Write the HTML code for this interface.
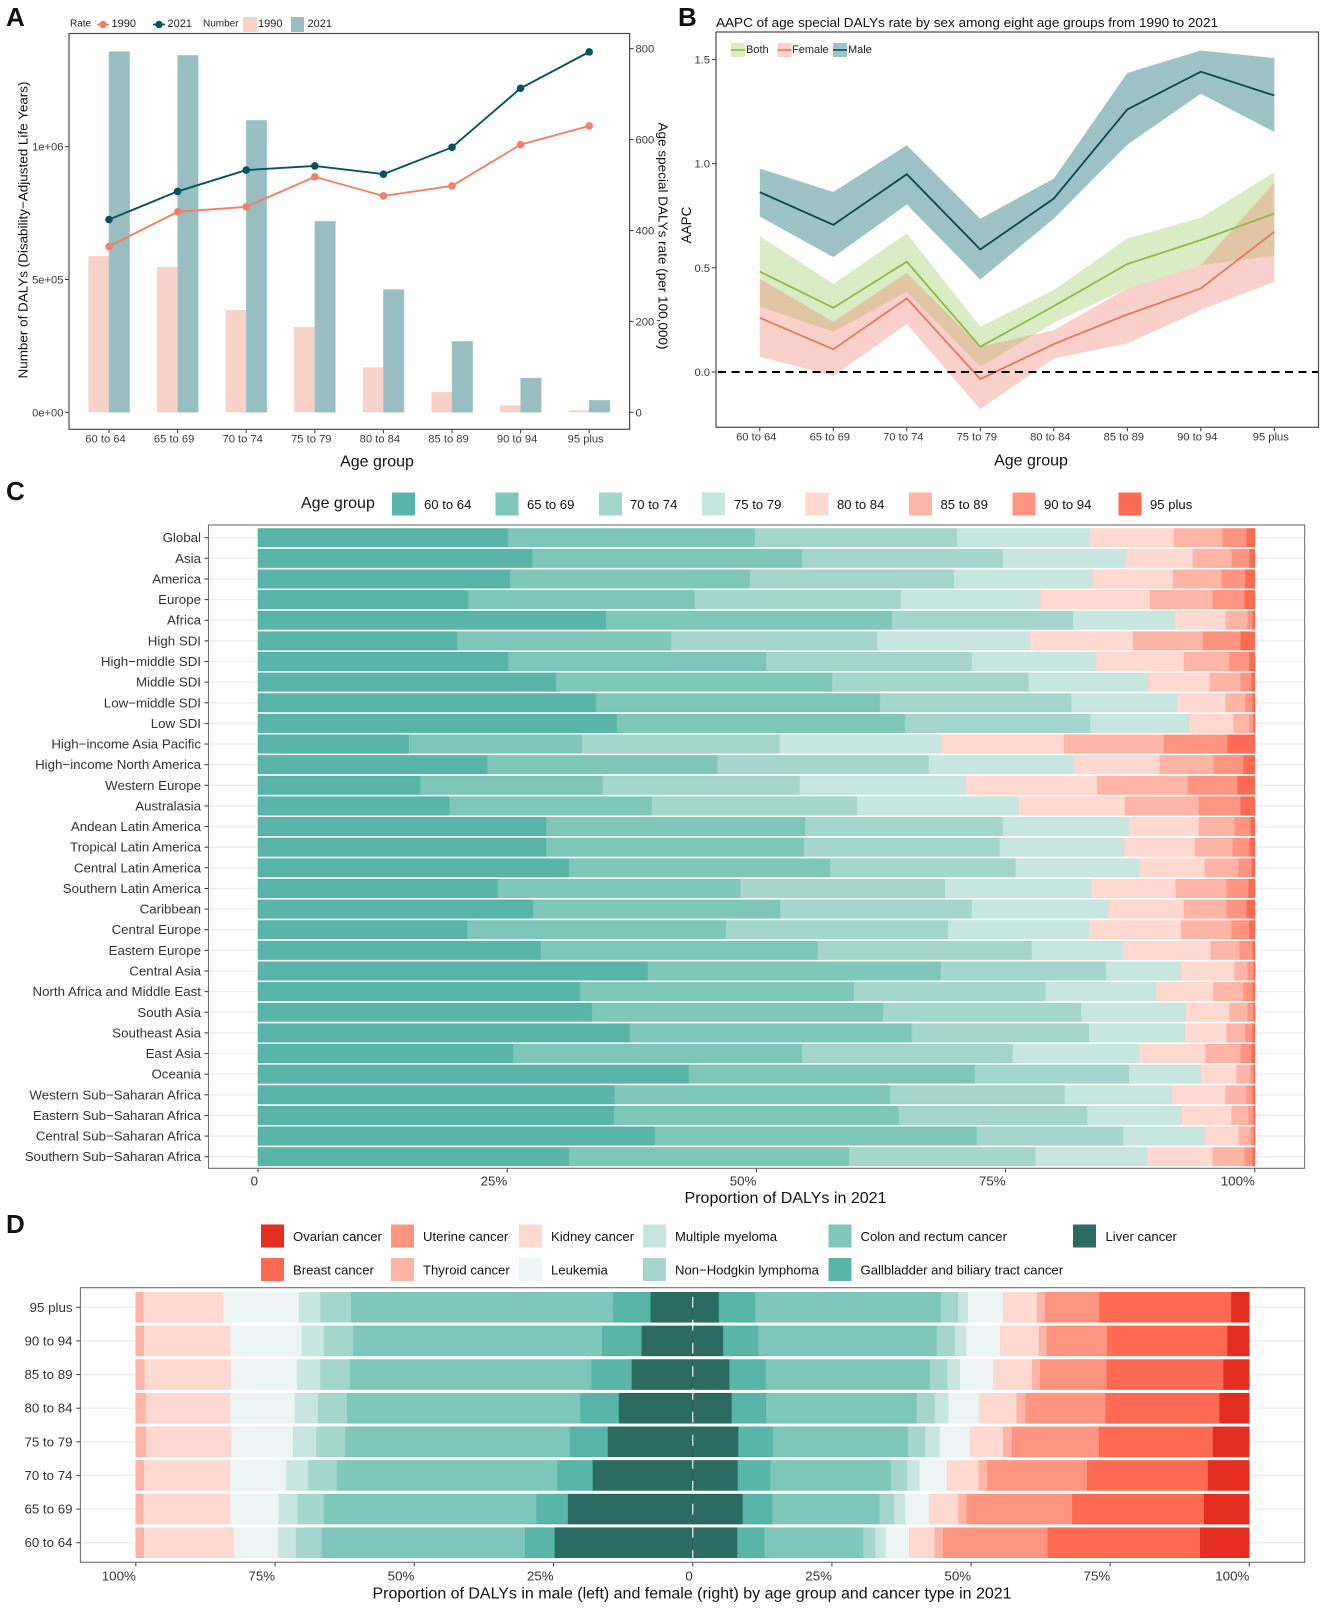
<!DOCTYPE html>
<html lang="en">
<head>
<meta charset="utf-8">
<title>DALYs by age group</title>
<style>
html,body{margin:0;padding:0;background:#fff;}
svg{display:block;font-family:"Liberation Sans",Arial,sans-serif;}
text{dominant-baseline:central;}
.tick{font-size:11.2px;fill:#3a3a3a;}
.tick13{font-size:13.3px;fill:#333;}
.title{font-size:16px;fill:#111;}
.tag{font-size:26px;font-weight:bold;fill:#111;}
.leg{font-size:13.12px;fill:#111;}
.leg11{font-size:11px;fill:#222;}
.leg10{font-size:10px;fill:#222;}
</style>
</head>
<body>
<svg id="figure" xmlns="http://www.w3.org/2000/svg" width="1325" height="1608" viewBox="0 0 1325 1608">
  <rect width="1325" height="1608" fill="#fff"/>

  <!-- Panel tags -->
  <text class="tag" x="6" y="17">A</text>
  <text class="tag" x="678" y="17">B</text>
  <text class="tag" x="6" y="491">C</text>
  <text class="tag" x="6" y="1224">D</text>

  <!-- Panel A -->
  <g id="panelA"></g>
  <g>
    <text class="leg10" x="70" y="24">Rate</text>
    <line x1="97" x2="109" y1="24.5" y2="24.5" stroke="#f0806a" stroke-width="1.7"/>
    <circle cx="103" cy="24.5" r="3.7" fill="#f0806a"/>
    <text class="leg11" x="111.5" y="24">1990</text>
    <line x1="153" x2="165" y1="24.5" y2="24.5" stroke="#05545c" stroke-width="1.7"/>
    <circle cx="159" cy="24.5" r="3.7" fill="#05545c"/>
    <text class="leg11" x="167.5" y="24">2021</text>
    <text class="leg10" x="203" y="24">Number</text>
    <rect x="243" y="17" width="14" height="15" fill="#f8d1c9"/>
    <text class="leg11" x="258" y="24">1990</text>
    <rect x="291" y="17" width="13" height="15" fill="#98bec1"/>
    <text class="leg11" x="307.5" y="24">2021</text>
  </g>
  <text class="title" x="377" y="462" text-anchor="middle">Age group</text>
  <text font-size="13" fill="#111" transform="translate(23 230) rotate(-90)" text-anchor="middle" textLength="297" lengthAdjust="spacingAndGlyphs">Number of DALYs (Disability−Adjusted Life Years)</text>
  <text font-size="13" fill="#111" transform="translate(663 236) rotate(90)" text-anchor="middle" textLength="227" lengthAdjust="spacingAndGlyphs">Age special DALYs rate (per 100,000)</text>

  <!-- Panel B -->
  <g id="panelB"></g>
  <text font-size="13" fill="#111" x="716" y="22.5" textLength="502" lengthAdjust="spacingAndGlyphs">AAPC of age special DALYs rate by sex among eight age groups from 1990 to 2021</text>
  <g>
    <rect x="731" y="43" width="14" height="14" fill="#dcebc3"/>
    <line x1="731" x2="745" y1="50" y2="50" stroke="#8ab840" stroke-width="1.5"/>
    <text class="leg11" x="746" y="50">Both</text>
    <rect x="777.5" y="43" width="14" height="14" fill="#f9d1ca"/>
    <line x1="777.5" x2="791.5" y1="50" y2="50" stroke="#e8735a" stroke-width="1.5"/>
    <text class="leg11" x="792" y="50">Female</text>
    <rect x="833" y="43" width="14" height="14" fill="#9cc2c6"/>
    <line x1="833" x2="847" y1="50" y2="50" stroke="#05484f" stroke-width="1.5"/>
    <text class="leg11" x="848" y="50">Male</text>
  </g>
  <text font-size="13.5" fill="#111" transform="translate(686.5 225) rotate(-90)" text-anchor="middle">AAPC</text>
  <text class="title" x="1031" y="461" text-anchor="middle">Age group</text>

  <!-- Panel C -->
  <g>
    <text class="title" x="301" y="503.5">Age group</text>
    <rect x="392" y="492.5" width="23" height="23" fill="#58b5a8"/>
    <text class="leg" x="424" y="504.5">60 to 64</text>
    <rect x="495.5" y="492.5" width="23" height="23" fill="#7ec6b9"/>
    <text class="leg" x="527" y="504.5">65 to 69</text>
    <rect x="599" y="492.5" width="23" height="23" fill="#a4d6ce"/>
    <text class="leg" x="630" y="504.5">70 to 74</text>
    <rect x="702" y="492.5" width="23" height="23" fill="#c7e6e0"/>
    <text class="leg" x="734" y="504.5">75 to 79</text>
    <rect x="805.5" y="492.5" width="23" height="23" fill="#ffd9d0"/>
    <text class="leg" x="837" y="504.5">80 to 84</text>
    <rect x="909" y="492.5" width="23" height="23" fill="#ffb5a6"/>
    <text class="leg" x="940.5" y="504.5">85 to 89</text>
    <rect x="1012.5" y="492.5" width="23" height="23" fill="#ff9580"/>
    <text class="leg" x="1044" y="504.5">90 to 94</text>
    <rect x="1118.5" y="492.5" width="23" height="23" fill="#ff6b52"/>
    <text class="leg" x="1150" y="504.5">95 plus</text>
  </g>
  <g id="panelC"></g>
  <text font-size="15.5" fill="#111" x="785.5" y="1198.5" text-anchor="middle" textLength="202" lengthAdjust="spacingAndGlyphs">Proportion of DALYs in 2021</text>

  <!-- Panel D -->
  <g>
    <rect x="261" y="1224.5" width="23" height="23" fill="#e32e20"/>
    <text class="leg" x="293" y="1236.5">Ovarian cancer</text>
    <rect x="261" y="1258" width="23" height="23" fill="#ff6b52"/>
    <text class="leg" x="293" y="1270">Breast cancer</text>
    <rect x="391" y="1224.5" width="23" height="23" fill="#ff9580"/>
    <text class="leg" x="423" y="1236.5">Uterine cancer</text>
    <rect x="391" y="1258" width="23" height="23" fill="#ffb5a6"/>
    <text class="leg" x="423" y="1270">Thyroid cancer</text>
    <rect x="519" y="1224.5" width="23" height="23" fill="#ffd9d0"/>
    <text class="leg" x="551" y="1236.5">Kidney cancer</text>
    <rect x="519" y="1258" width="23" height="23" fill="#ecf5f3"/>
    <text class="leg" x="551" y="1270">Leukemia</text>
    <rect x="643" y="1224.5" width="23" height="23" fill="#c7e6e0"/>
    <text class="leg" x="675" y="1236.5">Multiple myeloma</text>
    <rect x="643" y="1258" width="23" height="23" fill="#a4d6ce"/>
    <text class="leg" x="675" y="1270">Non−Hodgkin lymphoma</text>
    <rect x="828.5" y="1224.5" width="23" height="23" fill="#7ec6b9"/>
    <text class="leg" x="860.5" y="1236.5">Colon and rectum cancer</text>
    <rect x="828.5" y="1258" width="23" height="23" fill="#58b5a8"/>
    <text class="leg" x="860.5" y="1270">Gallbladder and biliary tract cancer</text>
    <rect x="1073" y="1224.5" width="23" height="23" fill="#2c6b62"/>
    <text class="leg" x="1105.5" y="1236.5">Liver cancer</text>
  </g>
  <g id="panelD"></g>
  <text font-size="15.5" fill="#111" x="692" y="1594" text-anchor="middle" textLength="639" lengthAdjust="spacingAndGlyphs">Proportion of DALYs in male (left) and female (right) by age group and cancer type in 2021</text>
</svg>

<script>
/* ---------- chart data ---------- */
const ageGroups = ['60 to 64','65 to 69','70 to 74','75 to 79','80 to 84','85 to 89','90 to 94','95 plus'];

/* Panel A */
const number1990 = [588000,547000,385000,321000,169000,76000,26000,7500];
const number2021 = [1358000,1344000,1099000,719000,462000,267000,129000,45000];
const rate1990 = [365,441,452,518,476,498,589,630];
const rate2021 = [424,486,533,542,524,583,713,793];
const numberTicks = [0,500000,1000000];
const numberTickLabels = ['0e+00','5e+05','1e+06'];
const rateTicks = [0,200,400,600,800];

/* Panel B */
const maleLine = [.863,.706,.949,.588,.832,1.26,1.441,1.327];
const maleUpper = [.976,.864,1.088,.736,.928,1.435,1.543,1.506];
const maleLower = [.746,.551,.804,.444,.736,1.091,1.335,1.152];
const bothLine = [.482,.308,.529,.121,.316,.518,.633,.760];
const bothUpper = [.653,.423,.665,.217,.393,.641,.740,.958];
const bothLower = [.313,.193,.385,.026,.236,.401,.513,.558];
const femaleLine = [.260,.109,.353,-.034,.134,.276,.401,.673];
const femaleUpper = [.447,.241,.476,.121,.201,.401,.513,.909];
const femaleLower = [.073,-.019,.230,-.179,.065,.137,.297,.433];
const aapcTicks = [0,.5,1,1.5];
const aapcTickLabels = ['0.0','0.5','1.0','1.5'];

/* Panel C */
const regions = ['Global','Asia','America','Europe','Africa','High SDI','High−middle SDI','Middle SDI','Low−middle SDI','Low SDI','High−income Asia Pacific','High−income North America','Western Europe','Australasia','Andean Latin America','Tropical Latin America','Central Latin America','Southern Latin America','Caribbean','Central Europe','Eastern Europe','Central Asia','North Africa and Middle East','South Asia','Southeast Asia','East Asia','Oceania','Western Sub−Saharan Africa','Eastern Sub−Saharan Africa','Central Sub−Saharan Africa','Southern Sub−Saharan Africa'];
const age6064 = [25.1,27.5,25.3,21.1,34.9,20.0,25.1,29.9,33.9,36.0,15.1,23.0,16.3,19.2,28.9,28.9,31.2,24.0,27.6,21.0,28.4,39.1,32.3,33.5,37.3,25.6,43.2,35.8,35.7,39.8,31.2];
const age6569 = [24.8,27.1,24.1,22.7,28.7,21.5,25.9,27.7,28.5,28.9,17.4,23.1,18.3,20.3,26.0,25.9,26.2,24.3,24.8,26.0,27.8,29.4,27.5,29.2,28.3,29.0,28.7,27.7,28.6,32.3,28.1];
const age7074 = [20.3,20.1,20.5,20.7,18.2,20.7,20.6,19.7,19.2,18.6,19.8,21.2,19.8,20.6,19.8,19.6,18.6,20.5,19.2,22.3,21.5,16.6,19.2,19.9,17.8,21.1,15.5,17.5,18.9,14.7,18.7];
const age7579 = [13.3,12.4,13.9,14.0,10.2,15.3,12.5,12.0,10.6,9.9,16.2,14.6,16.7,16.2,12.7,12.5,12.4,14.6,13.7,14.2,9.2,7.5,11.1,10.5,9.6,12.7,7.2,10.8,9.5,8.2,11.2];
const age8084 = [8.5,6.7,8.1,11.0,5.1,10.4,8.8,6.2,4.9,4.5,12.3,8.6,13.2,10.7,7.0,7.1,6.6,8.5,7.6,9.2,8.8,5.4,5.8,4.4,4.2,6.7,3.6,5.4,5.0,3.4,6.6];
const age8589 = [4.9,3.9,4.9,6.3,2.2,7.0,4.6,3.1,2.0,1.6,10.0,5.4,9.1,7.4,3.6,3.8,3.4,5.1,4.3,5.1,2.9,1.3,3.0,1.8,1.9,3.5,1.4,2.1,1.7,1.2,3.2];
const age9094 = [2.4,1.8,2.4,3.2,.5,3.8,2.0,1.1,.7,.4,6.4,3.0,5.0,4.2,1.6,1.7,1.3,2.2,2.0,1.8,1.3,.6,.9,.6,.7,1.1,.3,.6,.5,.3,.8];
const age95plus = [.8,.5,.9,1.0,.2,1.4,.5,.3,.2,.1,2.7,1.1,1.7,1.4,.4,.5,.3,.6,.8,.5,.2,.1,.2,.1,.2,.3,.1,.2,.1,.1,.2];
const proportionTicks = [0,25,50,75,100];
const proportionTickLabels = ['0','25%','50%','75%','100%'];

/* Panel D (rows listed top to bottom) */
const cancerAges = ['95 plus','90 to 94','85 to 89','80 to 84','75 to 79','70 to 74','65 to 69','60 to 64'];
const maleLiver = [7.6,9.2,11.0,13.3,15.3,18.0,22.4,24.8];
const maleGallbladder = [6.7,7.1,7.2,6.9,6.8,6.3,5.6,5.3];
const maleColon = [47.0,44.6,43.4,41.9,40.3,39.6,38.1,36.5];
const maleLymphoma = [5.5,5.3,5.3,5.2,5.2,5.2,4.7,4.6];
const maleMyeloma = [3.9,4.0,4.2,4.2,4.2,3.9,3.5,3.2];
const maleLeukemia = [13.6,12.8,11.9,11.6,11.1,10.1,8.7,8.0];
const maleKidney = [14.3,15.5,15.5,15.2,15.3,15.5,15.5,16.1];
const maleThyroid = [1.3,1.4,1.5,1.7,1.8,1.4,1.3,1.4];
const femaleLiver = [4.7,5.5,6.6,7.0,8.2,8.1,9.0,8.0];
const femaleGallbladder = [6.5,6.3,6.5,6.2,6.2,5.8,5.3,4.9];
const femaleColon = [33.4,32.1,29.5,27.1,24.3,21.7,19.3,17.7];
const femaleLymphoma = [3.1,3.2,3.2,3.2,3.1,2.9,2.6,2.2];
const femaleMyeloma = [1.8,2.1,2.3,2.5,2.6,2.3,2.0,1.9];
const femaleLeukemia = [6.3,6.1,6.0,5.6,5.4,4.9,4.3,4.2];
const femaleKidney = [6.1,7.0,7.0,6.7,6.0,5.7,5.3,4.6];
const femaleThyroid = [1.5,1.4,1.4,1.6,1.6,1.6,1.5,1.5];
const femaleUterine = [9.7,10.9,12.0,14.4,15.6,17.9,19.0,18.8];
const femaleBreast = [23.7,21.6,21.0,20.5,20.5,21.7,23.7,27.4];
const femaleOvarian = [3.2,3.9,4.6,5.3,6.5,7.4,8.1,8.8];

/* ---------- helpers ---------- */
const SVGNS = 'http://www.w3.org/2000/svg';
function mk(tag, attrs, parent, content) {
  const el = document.createElementNS(SVGNS, tag);
  for (const k in attrs) el.setAttribute(k, attrs[k]);
  if (content !== undefined) el.textContent = content;
  parent.appendChild(el);
  return el;
}
function linePath(xs, ys) {
  return xs.map((x, i) => (i ? 'L' : 'M') + x.toFixed(2) + ' ' + ys[i].toFixed(2)).join(' ');
}

/* ---------- Panel A ---------- */
const gA = document.getElementById('panelA');
const A = {l: 69, r: 629.6, t: 33.5, b: 429.3};
const xA = i => 109 + i * 68.6;
const yNumber = v => 412.3 - v / 500000 * 132.8;
const yRate = v => 412.3 - v / 800 * 363.6;
const barWidthA = 20.6;
ageGroups.forEach((g, i) => {
  const bar1 = mk('rect', {x: xA(i) - barWidthA, y: yNumber(number1990[i]), width: barWidthA, height: yNumber(0) - yNumber(number1990[i]), fill: '#f8d1c9'}, gA);
  
  
  const bar2 = mk('rect', {x: xA(i), y: yNumber(number2021[i]), width: barWidthA, height: yNumber(0) - yNumber(number2021[i]), fill: '#98bec1', stroke: '#a9cfcf', 'stroke-width': .6}, gA);
  
  
});
const xsA = ageGroups.map((g, i) => xA(i));
const rateLine1990 = mk('path', {d: linePath(xsA, rate1990.map(yRate)), fill: 'none', stroke: '#f0806a', 'stroke-width': 1.9}, gA);


const rateLine2021 = mk('path', {d: linePath(xsA, rate2021.map(yRate)), fill: 'none', stroke: '#05545c', 'stroke-width': 1.9}, gA);


ageGroups.forEach((g, i) => {
  const d1 = mk('circle', {cx: xA(i), cy: yRate(rate1990[i]), r: 3.8, fill: '#f0806a'}, gA);
  
  
  const d2 = mk('circle', {cx: xA(i), cy: yRate(rate2021[i]), r: 3.8, fill: '#05545c'}, gA);
  
  
  const tick = mk('line', {x1: xA(i), x2: xA(i), y1: A.b, y2: A.b + 4, stroke: '#333', 'stroke-width': 1}, gA);
  
  
  const label = mk('text', {x: xA(i) - 3.5, y: 439.5, 'text-anchor': 'middle', class: 'tick'}, gA, g);
  
  
});
numberTicks.forEach((v, i) => {
  const t = mk('line', {x1: A.l - 4, x2: A.l, y1: yNumber(v), y2: yNumber(v), stroke: '#333'}, gA);
  
  
  const l = mk('text', {x: 63.5, y: yNumber(v) + 1, 'text-anchor': 'end', class: 'tick'}, gA, numberTickLabels[i]);
  
  
});
rateTicks.forEach(v => {
  const t = mk('line', {x1: A.r, x2: A.r + 4, y1: yRate(v), y2: yRate(v), stroke: '#333'}, gA);
  
  
  const l = mk('text', {x: 635.5, y: yRate(v) + 1, class: 'tick'}, gA, String(v));
  
  
});
const frameA = mk('rect', {x: A.l, y: A.t, width: A.r - A.l, height: A.b - A.t, fill: 'none', stroke: '#4a4a4a', 'stroke-width': 1.2}, gA);



/* ---------- Panel B ---------- */
const gB = document.getElementById('panelB');
const B = {l: 716, r: 1318.5, t: 32, b: 427.3};
const xB = i => 759.8 + i * 73.5;
const yAapc = v => 372 - v * 208.4;
const xsB = ageGroups.map((g, i) => xB(i));
function band(upper, lower) {
  const top = upper.map(yAapc), bot = lower.map(yAapc);
  return linePath(xsB.concat(xsB.slice().reverse()), top.concat(bot.slice().reverse())) + ' Z';
}
const maleBand = mk('path', {d: band(maleUpper, maleLower), fill: '#08666f', 'fill-opacity': .4}, gB);


const bothBand = mk('path', {d: band(bothUpper, bothLower), fill: '#85c03a', 'fill-opacity': .3}, gB);


const femaleBand = mk('path', {d: band(femaleUpper, femaleLower), fill: '#ee7f6c', 'fill-opacity': .36}, gB);


const maleTrend = mk('path', {d: linePath(xsB, maleLine.map(yAapc)), fill: 'none', stroke: '#05484f', 'stroke-width': 1.8}, gB);


const bothTrend = mk('path', {d: linePath(xsB, bothLine.map(yAapc)), fill: 'none', stroke: '#8ab840', 'stroke-width': 1.7}, gB);


const femaleTrend = mk('path', {d: linePath(xsB, femaleLine.map(yAapc)), fill: 'none', stroke: '#e8735a', 'stroke-width': 1.7}, gB);


const zeroLine = mk('line', {x1: B.l, x2: B.r, y1: yAapc(0), y2: yAapc(0), stroke: '#000', 'stroke-width': 2, 'stroke-dasharray': '8 5.5', 'stroke-dashoffset': -2}, gB);


ageGroups.forEach((g, i) => {
  const tick = mk('line', {x1: xB(i), x2: xB(i), y1: B.b, y2: B.b + 4, stroke: '#333'}, gB);
  
  
  const label = mk('text', {x: xB(i) - 3.5, y: 437.5, 'text-anchor': 'middle', class: 'tick'}, gB, g);
  
  
});
aapcTicks.forEach((v, i) => {
  const t = mk('line', {x1: B.l - 4, x2: B.l, y1: yAapc(v), y2: yAapc(v), stroke: '#333'}, gB);
  
  
  const l = mk('text', {x: 710, y: yAapc(v) + 1, 'text-anchor': 'end', class: 'tick'}, gB, aapcTickLabels[i]);
  
  
});
const frameB = mk('rect', {x: B.l, y: B.t, width: B.r - B.l, height: B.b - B.t, fill: 'none', stroke: '#4a4a4a', 'stroke-width': 1.2}, gB);



/* ---------- Panel C ---------- */
const gC = document.getElementById('panelC');
const C = {l: 208.5, r: 1304.7, t: 525, b: 1168.3};
const xC = v => 258 + v * 9.968;
const yC = i => 537.7 + i * 20.633;
const barHeightC = 18.4;
const ageSeries = [age6064, age6569, age7074, age7579, age8084, age8589, age9094, age95plus];
const ageColors = ['#58b5a8','#7ec6b9','#a4d6ce','#c7e6e0','#ffd9d0','#ffb5a6','#ff9580','#ff6b52'];
const ageEdges = ['#45a99a','#6fbdaf','#97cec5','#bcdfd8','#fbd0c6','#fbaa99','#fb8a74','#f95f45'];
regions.forEach((name, i) => {
  const grid = mk('line', {x1: C.l, x2: C.r, y1: yC(i), y2: yC(i), stroke: '#ededed', 'stroke-width': 1.3}, gC);
  
  
  const total = ageSeries.reduce((s, a) => s + a[i], 0);
  let cum = 0;
  ageSeries.forEach((series, k) => {
    const x0 = xC(cum / total * 100);
    cum += series[i];
    const x1 = xC(cum / total * 100);
    const seg = mk('rect', {x: x0, y: yC(i) - barHeightC / 2, width: x1 - x0, height: barHeightC, fill: ageColors[k], stroke: ageEdges[k], 'stroke-width': .5}, gC);
    
    
  });
  const tick = mk('line', {x1: C.l - 4, x2: C.l, y1: yC(i), y2: yC(i), stroke: '#333'}, gC);
  
  
  const label = mk('text', {x: 201, y: yC(i), 'text-anchor': 'end', class: 'tick13'}, gC, name);
  
  
});
proportionTicks.forEach((v, i) => {
  const t = mk('line', {x1: xC(v), x2: xC(v), y1: C.b, y2: C.b + 4, stroke: '#333'}, gC);
  
  
  const l = mk('text', {x: xC(v), y: 1181, 'text-anchor': 'end', class: 'tick13'}, gC, proportionTickLabels[i]);
  
  
});
const frameC = mk('rect', {x: C.l, y: C.t, width: C.r - C.l, height: C.b - C.t, fill: 'none', stroke: '#6f6f6f', 'stroke-width': 1.1}, gC);



/* ---------- Panel D ---------- */
const gD = document.getElementById('panelD');
const D = {l: 80.4, r: 1304.7, t: 1287.7, b: 1562.3};
const xMale = v => 692.8 - v * 5.57;
const xFemale = v => 692.8 + v * 5.565;
const yD = i => 1307.3 + i * 33.63;
const barHeightD = 30;
const maleSeries = [maleLiver, maleGallbladder, maleColon, maleLymphoma, maleMyeloma, maleLeukemia, maleKidney, maleThyroid];
const femaleSeries = [femaleLiver, femaleGallbladder, femaleColon, femaleLymphoma, femaleMyeloma, femaleLeukemia, femaleKidney, femaleThyroid, femaleUterine, femaleBreast, femaleOvarian];
const cancerColors = ['#2c6b62','#58b5a8','#7ec6b9','#a4d6ce','#c7e6e0','#ecf5f3','#ffd9d0','#ffb5a6','#ff9580','#ff6b52','#e32e20'];
const cancerEdges = ['#155a50','#45a99a','#6fbdaf','#97cec5','#bcdfd8','#e6f1ee','#fbd0c6','#fbaa99','#fb8a74','#f95f45','#d8261a'];
cancerAges.forEach((name, i) => {
  const grid = mk('line', {x1: D.l, x2: D.r, y1: yD(i), y2: yD(i), stroke: '#ededed', 'stroke-width': 1.3}, gD);
  
  
  const maleTotal = maleSeries.reduce((s, a) => s + a[i], 0);
  let cumM = 0;
  maleSeries.forEach((series, k) => {
    const x0 = xMale(cumM / maleTotal * 100);
    cumM += series[i];
    const x1 = xMale(cumM / maleTotal * 100);
    const seg = mk('rect', {x: x1, y: yD(i) - barHeightD / 2, width: x0 - x1, height: barHeightD, fill: cancerColors[k], stroke: cancerEdges[k], 'stroke-width': .5}, gD);
    
    
  });
  const femaleTotal = femaleSeries.reduce((s, a) => s + a[i], 0);
  let cumF = 0;
  femaleSeries.forEach((series, k) => {
    const x0 = xFemale(cumF / femaleTotal * 100);
    cumF += series[i];
    const x1 = xFemale(cumF / femaleTotal * 100);
    const seg = mk('rect', {x: x0, y: yD(i) - barHeightD / 2, width: x1 - x0, height: barHeightD, fill: cancerColors[k], stroke: cancerEdges[k], 'stroke-width': .5}, gD);
    
    
  });
  const tick = mk('line', {x1: D.l - 4, x2: D.l, y1: yD(i), y2: yD(i), stroke: '#333'}, gD);
  
  
  const label = mk('text', {x: 72.5, y: yD(i), 'text-anchor': 'end', class: 'tick13'}, gD, name);
  
  
});
const centerLine = mk('line', {x1: 692.8, x2: 692.8, y1: D.t, y2: D.b, stroke: '#fff', 'stroke-width': 1.1, 'stroke-dasharray': '11 12', 'stroke-dashoffset': -9}, gD);


proportionTicks.forEach((v, i) => {
  const t1 = mk('line', {x1: xMale(v), x2: xMale(v), y1: D.b, y2: D.b + 4, stroke: '#333'}, gD);
  
  
  const l1 = mk('text', {x: xMale(v), y: 1576, 'text-anchor': 'end', class: 'tick13'}, gD, proportionTickLabels[i]);
  
  
  if (v > 0) {
    const t2 = mk('line', {x1: xFemale(v), x2: xFemale(v), y1: D.b, y2: D.b + 4, stroke: '#333'}, gD);
    
    
    const l2 = mk('text', {x: xFemale(v), y: 1576, 'text-anchor': 'end', class: 'tick13'}, gD, proportionTickLabels[i]);
    
    
  }
});
const frameD = mk('rect', {x: D.l, y: D.t, width: D.r - D.l, height: D.b - D.t, fill: 'none', stroke: '#6f6f6f', 'stroke-width': 1.1}, gD);


</script>
</body>
</html>
